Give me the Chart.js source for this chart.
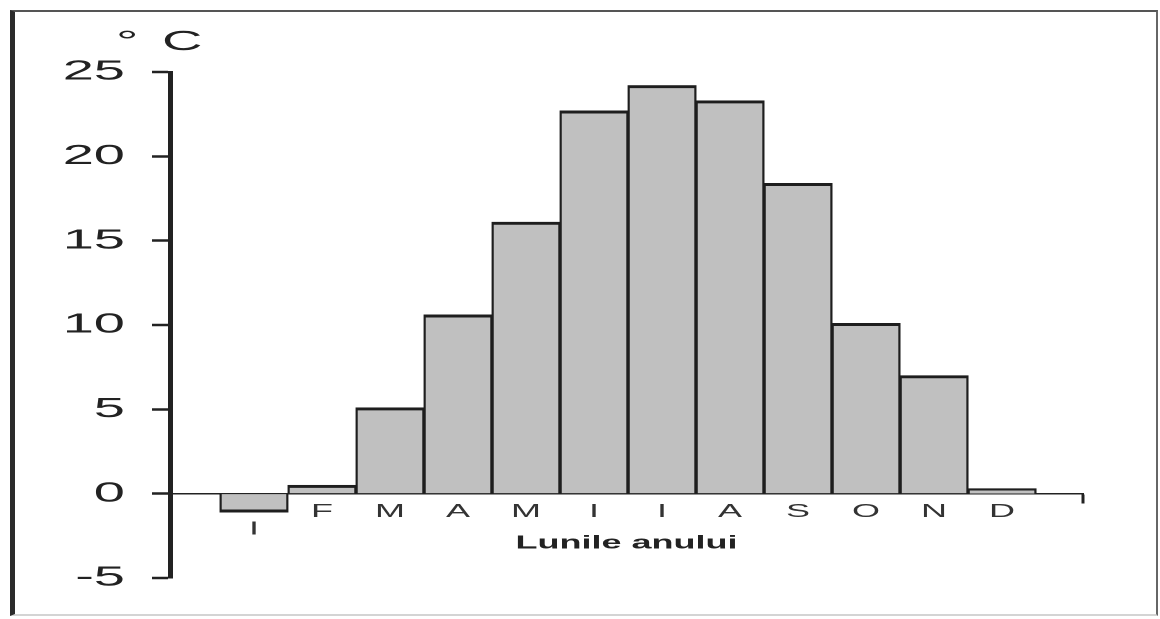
<!DOCTYPE html>
<html>
<head>
<meta charset="utf-8">
<script src="https://cdn.jsdelivr.net/npm/chart.js@4.4.1/dist/chart.umd.min.js"></script>
<style>
  html, body { margin: 0; padding: 0; background: #fff; }
  #wrap { position: relative; width: 1160px; height: 619px; overflow: hidden; }
  #grafic { position: absolute; left: 0; top: 0; }
  #rama { position: absolute; left: 10px; top: 10px; width: 1148px; height: 606px; box-sizing: border-box;
    border-left: 5px solid #2b2b2b; border-top: 2px solid #555; border-right: 2px solid #666;
    border-bottom: 2px solid #d4d4d4; pointer-events: none; }
</style>
</head>
<body>
<div id="wrap">
  <!-- desenat la jumatate de latime si intins pe orizontala, ca in imaginea originala -->
  <canvas id="grafic" width="580" height="619" style="width:1160px;height:619px"></canvas>
  <div id="rama"></div>
</div>
<script>
const luni = ['I', 'F', 'M', 'A', 'M', 'I', 'I', 'A', 'S', 'O', 'N', 'D'];
const temperaturi = [-1.1, 0.5, 5.1, 10.6, 16.1, 22.7, 24.2, 23.3, 18.4, 10.1, 7.0, 0.3];
const tickuriY = [-5, 0, 5, 10, 15, 20, 25];

const font = '"Liberation Sans", Arial, Helvetica, sans-serif';
Chart.defaults.font.family = font;

// eticheta "° C" deasupra axei Y
const unitate = {
  id: 'unitate',
  afterDraw(chart) {
    const ctx = chart.ctx;
    const area = chart.chartArea;
    ctx.save();
    ctx.font = '28px ' + font;
    ctx.fillStyle = '#222';
    ctx.textBaseline = 'alphabetic';
    ctx.fillText('°', area.left - 27, area.top - 22);
    ctx.fillText('C', area.left - 4, area.top - 22);
    ctx.restore();
  }
};

const ctx = document.getElementById('grafic');
const grafic = new Chart(ctx, {
  type: 'bar',
  data: {
    datasets: [{
      data: luni.map((l, i) => ({x: i + 1, y: temperaturi[i]})),
      backgroundColor: '#c0c0c0',
      borderColor: '#1e1e1e',
      borderWidth: {top: 3, bottom: 3, left: 1.2, right: 1.2},
      borderSkipped: 'start',
      barPercentage: 1,
      categoryPercentage: 1
    }]
  },
  options: {
    responsive: false,
    animation: false,
    devicePixelRatio: 2,
    layout: {padding: {left: 0, top: 72, right: 38.5, bottom: 41}},
    plugins: {legend: {display: false}, tooltip: {enabled: false}},
    scales: {
      x: {
        type: 'linear',
        position: {y: 0},
        offset: false,
        z: 1,
        min: -0.235,
        max: 13.19,
        afterBuildTicks: s => {
          s.ticks = luni.map((l, i) => ({value: i + 1})).concat([{value: s.max}]);
        },
        ticks: {
          autoSkip: false, maxRotation: 0, padding: 1, color: '#333',
          font: {size: 18, lineHeight: 0.95},
          // luna cu valoare negativa are eticheta coborata sub bara
          callback: v => {
            const i = v - 1;
            if (!luni[i]) return '';
            return temperaturi[i] < 0 ? ['', luni[i]] : luni[i];
          }
        },
        grid: {
          offset: false, drawOnChartArea: false, drawTicks: true, tickLength: 9, tickWidth: 1.5,
          tickColor: c => c.index === luni.length ? '#222' : 'rgba(0,0,0,0)'
        },
        border: {display: true, color: '#222', width: 1.5},
        title: {
          display: true, text: 'Lunile anului', color: '#222',
          font: {size: 18, weight: 'bold'}, padding: {top: -6, bottom: 0}
        }
      },
      y: {
        min: -5,
        max: 25,
        afterFit: s => { s.width = 85; },
        afterBuildTicks: s => { s.ticks = tickuriY.map(v => ({value: v})); },
        ticks: {padding: 13.5, color: '#222', font: {size: 28}},
        grid: {drawOnChartArea: false, drawTicks: true, tickLength: 9, tickWidth: 2.5, tickColor: '#222'},
        border: {display: true, color: '#222', width: 2.5}
      }
    }
  },
  plugins: [unitate]
});
</script>
</body>
</html>
